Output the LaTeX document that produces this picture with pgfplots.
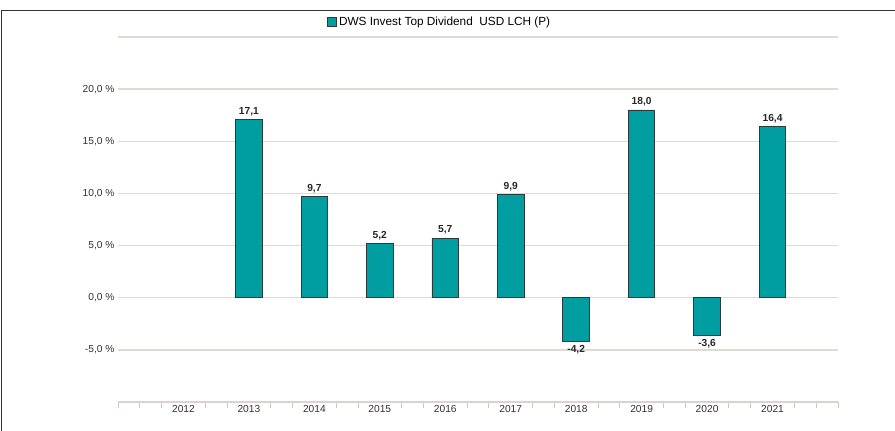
\documentclass[border=0pt]{standalone}
\usepackage{pgfplots}
\pgfplotsset{compat=1.18}
\usepackage{pgfplotstable}
\usepackage{fontspec}
\setmainfont{Liberation Sans}
\definecolor{barfill}{HTML}{009EA0}
\definecolor{bardraw}{HTML}{2B3B3B}
\definecolor{gridc}{HTML}{DEDBD2}
\definecolor{axisc}{HTML}{D9D5CB}
\definecolor{tickc}{HTML}{CBC7BD}
\definecolor{labc}{HTML}{333333}
\pgfplotstableread{
x y lab
2013 17.1 {17,1}
2014 9.7 {9,7}
2015 5.2 {5,2}
2016 5.7 {5,7}
2017 9.9 {9,9}
2019 18.0 {18,0}
2021 16.4 {16,4}
}\pos
\pgfplotstableread{
x y lab
2018 -4.2 {-4,2}
2020 -3.6 {-3,6}
}\negs
\begin{document}
\begin{tikzpicture}
\useasboundingbox (0,0) rectangle (895pt,431pt);
\draw[line width=1.3pt, color=labc] (1.5pt,0) -- (1.5pt,420.5pt) -- (895pt,420.5pt);
\begin{axis}[
  at={(118pt,29pt)}, anchor=south west,
  scale only axis, width=720pt, height=365pt,
  xmin=2011, xmax=2022, ymin=-10, ymax=25,
  axis x line*=bottom, axis y line*=left,
  y axis line style={draw=none},
  x axis line style={line width=2pt, color=axisc},
  ytick={-5,0,5,10,15,20,25},
  yticklabels={{-5,0 \%},{0,0 \%},{5,0 \%},{10,0 \%},{15,0 \%},{20,0 \%},{}},
  xtick={2012,2013,2014,2015,2016,2017,2018,2019,2020,2021},
  xticklabels={2012,2013,2014,2015,2016,2017,2018,2019,2020,2021},
  minor xtick={2011,2011.333,2011.667,2012.333,2012.667,2013.333,2013.667,2014.333,2014.667,2015.333,2015.667,2016.333,2016.667,2017.333,2017.667,2018.333,2018.667,2019.333,2019.667,2020.333,2020.667,2021.333,2021.667,2022},
  tick align=outside,
  major tick length=0pt, minor tick length=6pt,
  minor tick style={color=tickc, line width=0.9pt},
  ymajorgrids, major grid style={color=gridc, line width=1.3pt},
  ticklabel style={font=\fontsize{10.2}{12}\selectfont, color=labc},
  ybar, bar width=26.6pt, bar shift=0pt,
  point meta=explicit symbolic,
  legend style={at={(0.4465,1.041)}, anchor=center, draw=none, fill=none,
    font=\fontsize{11.8}{13}\selectfont, inner sep=0pt},
  legend image code/.code={\draw[fill=barfill, draw=bardraw, line width=0.8pt] (0pt,-4.6pt) rectangle (9.5pt,4.6pt);},
  clip=false,
]
\addplot[fill=barfill, draw=bardraw, line width=0.9pt,
  nodes near coords, nodes near coords align={above},
  every node near coord/.append style={font=\bfseries\fontsize{10.2}{12}\selectfont, color=black!85}]
  table[x=x, y=y, meta=lab] {\pos};
\addlegendentry{DWS Invest Top Dividend\ \ USD LCH (P)}
\addplot[fill=barfill, draw=bardraw, line width=0.9pt,
  nodes near coords, nodes near coords align={below},
  every node near coord/.append style={font=\bfseries\fontsize{10.2}{12}\selectfont, color=black!85}, forget plot]
  table[x=x, y=y, meta=lab] {\negs};
\end{axis}
\end{tikzpicture}
\end{document}
